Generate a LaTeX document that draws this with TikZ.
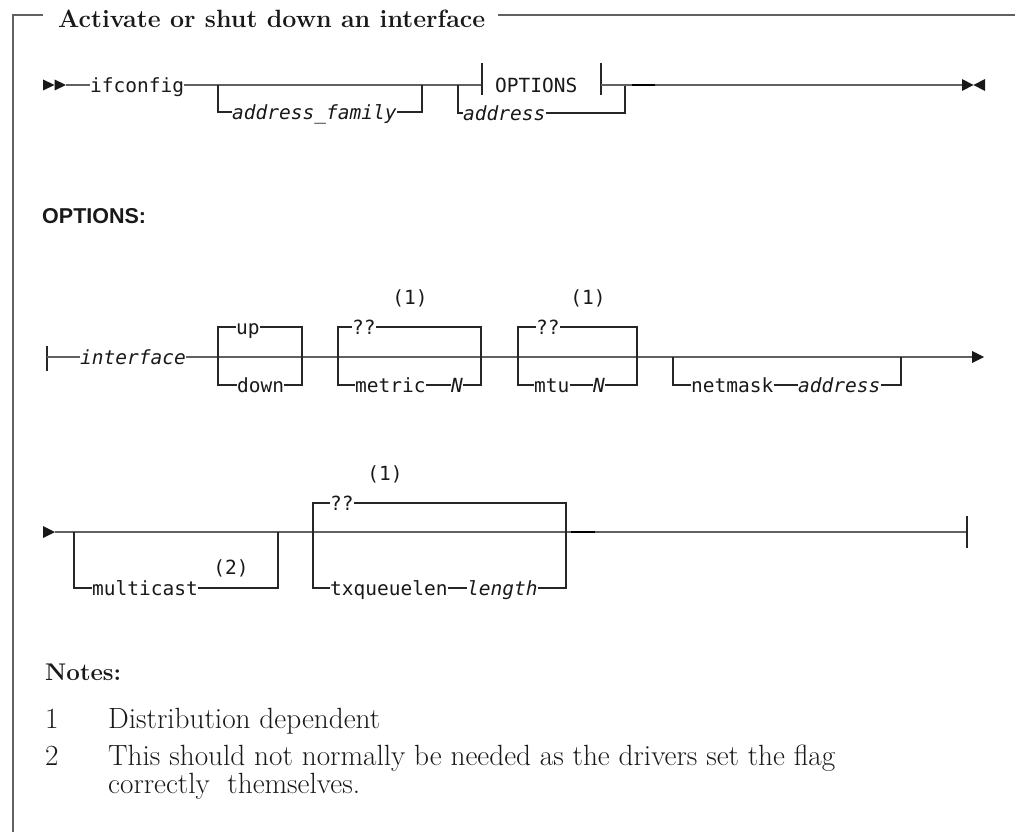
\documentclass[tikz,border=0pt]{standalone}
\usepackage{fontspec}
\setmonofont{DejaVu Sans Mono}
\newfontfamily\hsans{Liberation Sans}
\newlength\dlen
\tikzset{
  mainl/.style={line width=1.5pt, draw=black!62},
  brl/.style={line width=1.1pt, draw=black!85},
  darkseg/.style={line width=1.7pt, draw=black},
  framel/.style={line width=1.5pt, draw=black!62},
  mono/.style={font=\ttfamily\fontsize{19.5}{21}\selectfont, inner sep=0pt, anchor=base west, text=black!90},
  monoi/.style={font=\ttfamily\itshape\fontsize{19.5}{21}\selectfont, inner sep=0pt, anchor=base west, text=black!90},
  monoc/.style={font=\ttfamily\fontsize{19.5}{21}\selectfont, inner sep=0pt, anchor=base, text=black!90},
  ser/.style={font=\fontsize{\nfs}{\nfs}\selectfont, inner sep=0pt, anchor=base west, text=black!90},
  serb/.style={font=\bfseries\fontsize{25}{27}\selectfont, inner sep=0pt, anchor=base west, text=black!90},
  tip/.style={fill=black!90},
}
\begin{document}
\settowidth\dlen{\fontsize{27}{30}\selectfont Distribution dependent}
\pgfmathsetmacro\nfs{27*272/\dlen}
\begin{tikzpicture}[x=1pt,y=-1pt]
\useasboundingbox (0,0) rectangle (1015,832);
% frame and title
\node[serb] (title) at (58,28) {\resizebox{427pt}{!}{Activate or shut down an interface}};
\coordinate (fr1) at (43,15);
\coordinate (fr0) at (13,15);
\coordinate (fr2) at (13,832);
\coordinate (fr3) at (1015,15);
\draw[framel] (fr1) -- (fr0) -- (fr2);
\draw[framel] ([xshift=13pt]title.east |- fr3) -- (fr3);

% ---------------- row 1 ----------------
\fill[tip] (43,79.5) -- (54.5,85) -- (43,90.5) -- cycle;
\fill[tip] (54.5,79.5) -- (66,85) -- (54.5,90.5) -- cycle;
\coordinate (r1s) at (66,85);
\node[mono] (ifc) at (90,92.5) {ifconfig};
\draw[mainl] (r1s) -- (ifc.west |- r1s);
\coordinate (a1) at (218,85);
\coordinate (a2) at (218,112);
\coordinate (a3) at (422,112);
\coordinate (a4) at (422,85);
\node[monoi] (af) at (232,119.5) {address\_family};
\coordinate (ol) at (482,85);
\coordinate (or) at (601,85);
\draw[mainl] (ifc.east |- r1s) -- (ol);
\draw[brl] (a1) -- (a2) -- (af.west |- a2);
\draw[brl] (af.east |- a3) -- (a3) -- (a4);
% OPTIONS reference
\draw[brl] ([yshift=-10pt]ol) -- ([yshift=22pt]ol);
\draw[brl] ([yshift=-10pt]or) -- ([yshift=22pt]or);
\node[mono] (opt) at (495,92.5) {OPTIONS};
\coordinate (c1) at (458,85);
\coordinate (c2) at (458,113);
\coordinate (c3) at (625,113);
\coordinate (c4) at (625,85);
\node[monoi] (adr) at (463,120.5) {address};
\draw[brl] (c1) -- (c2) -- (adr.west |- c2);
\draw[brl] (adr.east |- c3) -- (c3) -- (c4);
\coordinate (r1e) at (962,85);
\draw[mainl] (or) -- (r1e);
\draw[darkseg] (632,85) -- (655,85);
\fill[tip] (962,79) -- (973.5,85) -- (962,91) -- cycle;
\fill[tip] (985,79) -- (973.5,85) -- (985,91) -- cycle;

% ---------------- OPTIONS heading ----------------
\node[font=\hsans\bfseries\fontsize{21.5}{23}\selectfont, inner sep=0pt, anchor=base west, text=black!90] (opth) at (42,223) {OPTIONS:};

% ---------------- row 2 ----------------
\coordinate (r2s) at (47,357);
\draw[brl] (47,346) -- (47,371);
\node[monoi] (iface) at (80,364.5) {interface};
\coordinate (r2e) at (972,357);
\draw[mainl] (r2s) -- (iface.west |- r2s);
\draw[mainl] (iface.east |- r2s) -- (r2e);
\fill[tip] (972,351) -- (984,357) -- (972,363) -- cycle;
% up / down
\node[mono] (up) at (236,334.5) {up};
\node[mono] (down) at (237,392.5) {down};
\coordinate (u1) at (218,327);
\coordinate (u2) at (218,385);
\coordinate (u3) at (302,327);
\coordinate (u4) at (302,385);
\draw[brl] (up.west |- u1) -- (u1) -- (u2) -- (down.west |- u2);
\draw[brl] (up.east |- u3) -- (u3) -- (u4) -- (down.east |- u4);
% metric
\node[monoc] (n1a) at (410,304) {(1)};
\node[mono] (q1) at (352,334.5) {??};
\node[mono] (met) at (355,392.5) {metric};
\node[monoi] (nm) at (451,392.5) {N};
\coordinate (m1) at (338,327);
\coordinate (m2) at (338,385);
\coordinate (m3) at (481,327);
\coordinate (m4) at (481,385);
\draw[brl] (q1.west |- m1) -- (m1) -- (m2) -- (met.west |- m2);
\draw[brl] (met.east |- m2) -- (nm.west |- m2);
\draw[brl] (nm.east |- m4) -- (m4) -- (m3) -- (q1.east |- m3);
% mtu
\node[monoc] (n1b) at (588,304) {(1)};
\node[mono] (q2) at (536,334.5) {??};
\node[mono] (mtu) at (534,392.5) {mtu};
\node[monoi] (nt) at (593,392.5) {N};
\coordinate (t1) at (518,327);
\coordinate (t2) at (518,385);
\coordinate (t3) at (637,327);
\coordinate (t4) at (637,385);
\draw[brl] (q2.west |- t1) -- (t1) -- (t2) -- (mtu.west |- t2);
\draw[brl] (mtu.east |- t2) -- (nt.west |- t2);
\draw[brl] (nt.east |- t4) -- (t4) -- (t3) -- (q2.east |- t3);
% netmask
\node[mono] (nmk) at (691,392.5) {netmask};
\node[monoi] (nadr) at (798,392.5) {address};
\coordinate (k1) at (673,357);
\coordinate (k2) at (673,385);
\coordinate (k3) at (901,385);
\coordinate (k4) at (901,357);
\draw[brl] (k1) -- (k2) -- (nmk.west |- k2);
\draw[brl] (nmk.east |- k2) -- (nadr.west |- k2);
\draw[brl] (nadr.east |- k3) -- (k3) -- (k4);

% ---------------- row 3 ----------------
\fill[tip] (43,526) -- (55,532) -- (43,538) -- cycle;
\coordinate (r3s) at (55,532);
\coordinate (r3e) at (967,532);
\draw[mainl] (r3s) -- (r3e);
\draw[brl] (967,516) -- (967,548);
\draw[darkseg] (571,532) -- (595,532);
% multicast
\node[mono] (mc) at (92,595.5) {multicast};
\node[monoc] (n2) at (231,574) {(2)};
\coordinate (p1) at (74,532);
\coordinate (p2) at (74,588);
\coordinate (p3) at (278,588);
\coordinate (p4) at (278,532);
\draw[brl] (p1) -- (p2) -- (mc.west |- p2);
\draw[brl] (mc.east |- p3) -- (p3) -- (p4);
% txqueuelen
\node[monoc] (n1c) at (385,480) {(1)};
\node[mono] (q3) at (330,510.5) {??};
\node[mono] (txq) at (330,595.5) {txqueuelen};
\node[monoi] (len) at (467,595.5) {length};
\coordinate (x1) at (313,503);
\coordinate (x2) at (313,588);
\coordinate (x3) at (566,503);
\coordinate (x4) at (566,588);
\draw[brl] (q3.west |- x1) -- (x1) -- (x2) -- (txq.west |- x2);
\draw[brl] (txq.east |- x2) -- (len.west |- x2);
\draw[brl] (len.east |- x4) -- (x4) -- (x3) -- (q3.east |- x3);

% ---------------- notes ----------------
\node[serb] (notes) at (45,680) {\resizebox{76pt}{!}{Notes:}};
\node[ser] (k1n) at (45,728) {1};
\node[ser] (k1t) at (108,728) {Distribution dependent};
\node[ser] (k2n) at (45,765) {2};
\node[ser] (k2t) at (108,765) {This should not normally be needed as the drivers set the flag};
\node[ser] (k2u) at (108,793) {correctly\ \ themselves.};
\end{tikzpicture}
\end{document}
